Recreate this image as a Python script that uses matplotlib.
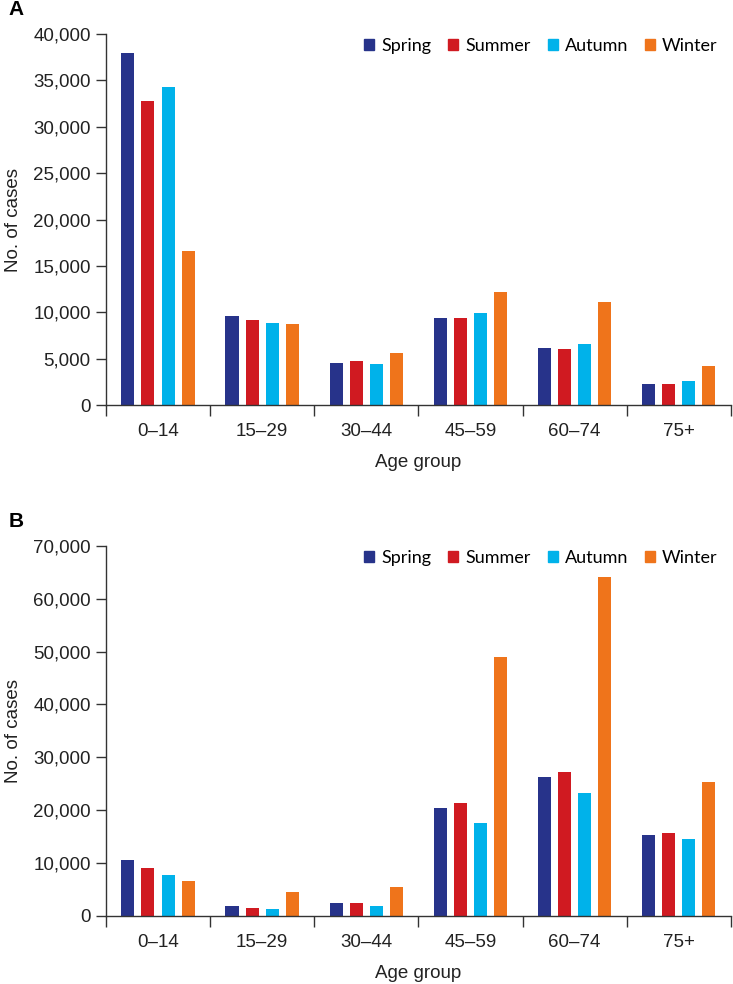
import numpy as np
import matplotlib
matplotlib.use("Agg")
import matplotlib.pyplot as plt
from matplotlib.patches import Patch
from matplotlib.ticker import FuncFormatter, MultipleLocator, FixedLocator

age_groups = ["0\u201314", "15\u201329", "30\u201344", "45\u201359", "60\u201374", "75+"]
seasons = ["Spring", "Summer", "Autumn", "Winter"]
colors = ["#27338a", "#d01a21", "#00b2ea", "#ef741b"]

# panel A
a_spring = [38000, 9600, 4500, 9380, 6150, 2250]
a_summer = [32800, 9130, 4780, 9400, 6040, 2250]
a_autumn = [34300, 8840, 4420, 9880, 6580, 2600]
a_winter = [16600, 8700, 5640, 12150, 11070, 4200]

# panel B
b_spring = [10500, 1840, 2400, 20400, 26300, 15300]
b_summer = [9000, 1500, 2450, 21300, 27300, 15600]
b_autumn = [7770, 1200, 1840, 17550, 23200, 14500]
b_winter = [6630, 4430, 5490, 48900, 64100, 25300]

tick_font = "Liberation Sans"
legend_font = "Lato"


def draw_panel(ax, series, ymax, ystep, letter):
    x = np.arange(len(age_groups))
    offsets = [-0.29, -0.097, 0.097, 0.29]
    for vals, off, c, name in zip(series, offsets, colors, seasons):
        ax.bar(x + off, vals, width=0.125, color=c, label=name)
    ax.set_xlim(-0.5, len(age_groups) - 0.5)
    ax.set_ylim(0, ymax)
    ax.yaxis.set_major_locator(MultipleLocator(ystep))
    ax.yaxis.set_major_formatter(FuncFormatter(lambda v, p: f"{int(v):,}"))
    ax.set_xticks(x)
    ax.set_xticklabels(age_groups)
    ax.xaxis.set_minor_locator(FixedLocator(np.arange(-0.5, len(age_groups), 1.0)))
    ax.tick_params(axis="x", which="major", length=0, pad=13, labelsize=13.5,
                   colors="#222222")
    ax.tick_params(axis="x", which="minor", length=8, width=1, color="#333333")
    ax.tick_params(axis="y", length=7, width=1, labelsize=13.5, pad=4,
                   colors="#222222", color="#333333")
    for lab in ax.get_xticklabels() + ax.get_yticklabels():
        lab.set_fontfamily(tick_font)
    for s in ("top", "right"):
        ax.spines[s].set_visible(False)
    for s in ("left", "bottom"):
        ax.spines[s].set_color("#333333")
        ax.spines[s].set_linewidth(1)
    ax.set_xlabel("Age group", fontsize=13.5, family=tick_font, labelpad=10,
                  color="#222222")
    ax.set_ylabel("No. of cases", fontsize=13.5, family=tick_font, labelpad=8,
                  color="#222222")
    handles = [Patch(color=c, label=n) for c, n in zip(colors, seasons)]
    ax.legend(handles=handles, loc="upper right", bbox_to_anchor=(0.993, 1.015),
              ncol=4, frameon=False, handlelength=0.55, handleheight=0.55,
              handletextpad=0.38, columnspacing=0.95, borderpad=0,
              prop={"family": legend_font, "size": 13})
    ax.figure.text(0.012, ax.get_position().y1 + 0.025, letter, fontsize=15,
                   fontweight="bold", family="Liberation Sans", va="center")


fig = plt.figure(figsize=(7.33, 9.84), dpi=100)
ax_a = fig.add_axes([0.1446, 0.5884, 0.8524, 0.377])
ax_b = fig.add_axes([0.1446, 0.0694, 0.8524, 0.3757])

draw_panel(ax_a, [a_spring, a_summer, a_autumn, a_winter], 40000, 5000, "A")
draw_panel(ax_b, [b_spring, b_summer, b_autumn, b_winter], 70000, 10000, "B")

fig.savefig("out.png", dpi=100)
